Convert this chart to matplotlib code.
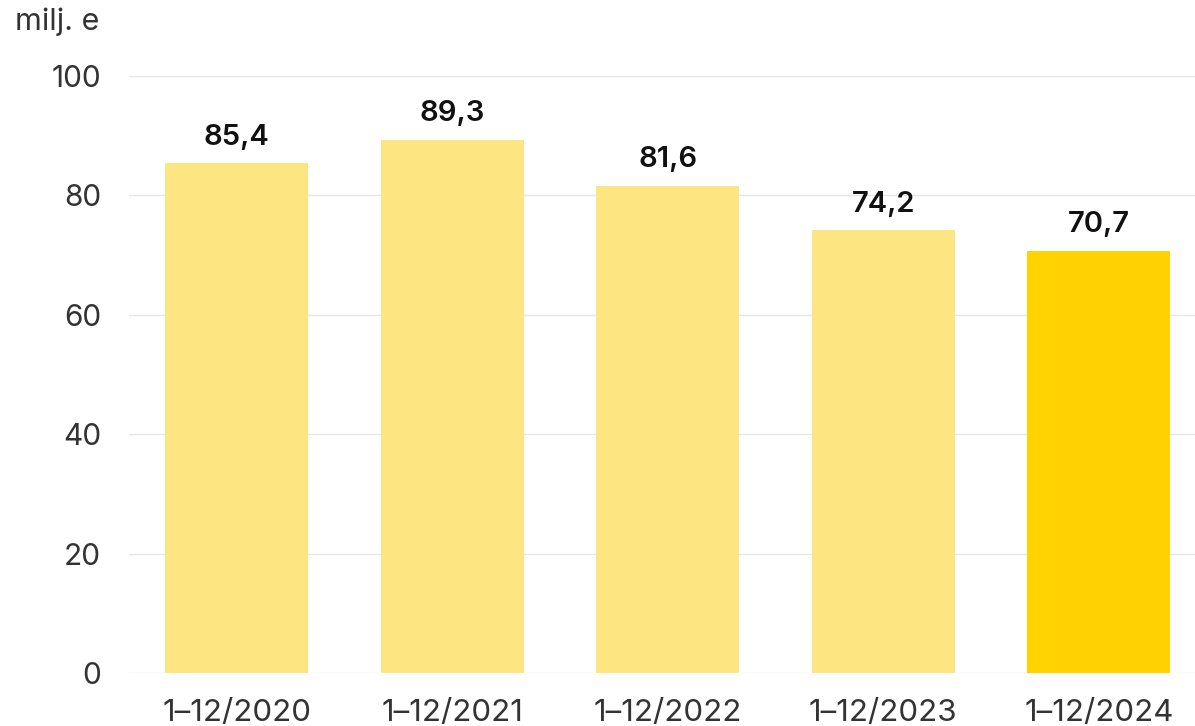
import matplotlib
matplotlib.use("Agg")
import matplotlib.pyplot as plt

categories = ["1–12/2020", "1–12/2021", "1–12/2022", "1–12/2023", "1–12/2024"]
values = [85.4, 89.3, 81.6, 74.2, 70.7]
value_labels = ["85,4", "89,3", "81,6", "74,2", "70,7"]
colors = ["#FDE681", "#FDE681", "#FDE681", "#FDE681", "#FFD200"]
yticks = [0, 20, 40, 60, 80, 100]

plt.rcParams['font.family'] = ['Inter', 'DejaVu Sans']

fig = plt.figure(figsize=(11.95, 7.26), dpi=100)
ax = fig.add_axes([129/1195, 53/726, 1 - 129/1195, (673-76)/726])

x = list(range(len(categories)))
ax.bar(x, values, width=0.665, color=colors, zorder=2)
ax.set_xlim(-0.5, (1195 - 129) / 215.5 - 0.5)
ax.set_ylim(0, 100)
ax.set_yticks(yticks)
ax.set_yticklabels([str(t) for t in yticks])
ax.set_xticks(x)
ax.set_xticklabels(categories)
ax.grid(axis='y', color='#e6e6e6', linewidth=1, zorder=0)
ax.set_axisbelow(True)
for s in ax.spines.values():
    s.set_visible(False)
ax.tick_params(axis='y', length=0, pad=20, labelsize=21.5, labelcolor='#333333')
ax.tick_params(axis='x', length=0, pad=19, labelsize=22.5, labelcolor='#333333')

for xi, v, lab in zip(x, values, value_labels):
    ax.annotate(lab, (xi, v), xytext=(0, 9), textcoords='offset points',
                ha='center', va='bottom', fontsize=21, fontweight='semibold', color='#111111')

fig.text(15/1195, 1 - 22/726, "milj. e", ha='left', va='center', fontsize=22, color='#333333')

fig.savefig("out.png", dpi=100)
